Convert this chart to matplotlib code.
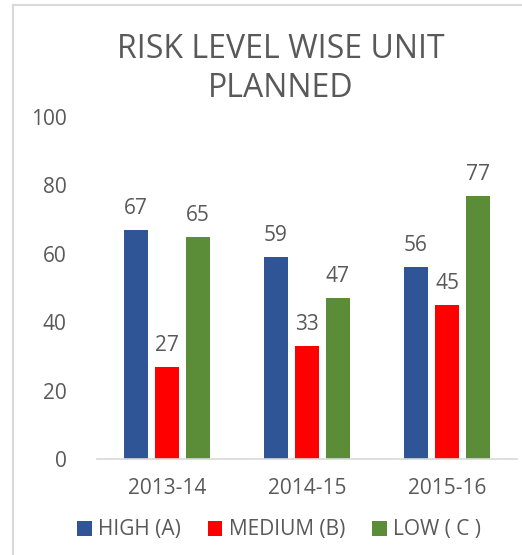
import matplotlib.pyplot as plt
import numpy as np
from matplotlib.lines import Line2D
from matplotlib.patches import Patch

# data
years = ["2013-14", "2014-15", "2015-16"]
high = [67, 59, 56]
medium = [27, 33, 45]
low = [65, 47, 77]
series_names = ["HIGH (A)", "MEDIUM (B)", "LOW ( C )"]
series_colors = ["#2F5597", "#FF0000", "#5B8C37"]

plt.rcParams['font.family'] = ['Open Sans', 'DejaVu Sans']
txt_color = "#595959"

fig = plt.figure(figsize=(5.22, 5.55), dpi=100)
ax = fig.add_axes([97 / 522, 1 - 459 / 555, 420 / 522, 342 / 555])

x = np.arange(len(years))
width = 24 / 140
step = 31 / 140
for i, (vals, name, col) in enumerate(zip([high, medium, low], series_names, series_colors)):
    pos = x + (i - 1) * step
    ax.bar(pos, vals, width=width, color=col, label=name, zorder=2)
    for px, v in zip(pos, vals):
        ax.annotate(str(v), xy=(px, v), xytext=(0, 8), textcoords='offset points',
                    ha='center', va='bottom', fontsize=15, color=txt_color)

ax.set_xlim(-0.5, 2.5)
ax.set_ylim(0, 100)
ax.set_yticks(range(0, 101, 20))
ax.set_xticks(x)
ax.set_xticklabels(years)
ax.tick_params(axis='both', length=0, labelsize=15, labelcolor=txt_color)
ax.tick_params(axis='x', pad=14)
ax.tick_params(axis='y', pad=22)
for s in ['top', 'right', 'left']:
    ax.spines[s].set_visible(False)
ax.spines['bottom'].set_color('#D9D9D9')
ax.spines['bottom'].set_linewidth(1.2)

fig.text(281 / 522, 1 - 69 / 555, "RISK LEVEL WISE UNIT\nPLANNED", ha='center', va='center',
         fontsize=23, color=txt_color, linespacing=1.25)

handles = [Patch(facecolor=c, edgecolor='none') for c in series_colors]
fig.legend(handles, series_names, loc='center', bbox_to_anchor=(279 / 522, 1 - 530 / 555),
           ncol=3, frameon=False, fontsize=15, labelcolor=txt_color,
           handlelength=0.7, handleheight=0.7, handletextpad=0.3, columnspacing=1.3)

# chart frame (left and top edges visible)
fig.add_artist(Line2D([13 / 522, 13 / 522], [0, 1 - 5 / 555], transform=fig.transFigure,
                      color='#D9D9D9', lw=1.5))
fig.add_artist(Line2D([13 / 522, 1], [1 - 5 / 555, 1 - 5 / 555], transform=fig.transFigure,
                      color='#D9D9D9', lw=1.5))

fig.savefig("out.png", dpi=100)
